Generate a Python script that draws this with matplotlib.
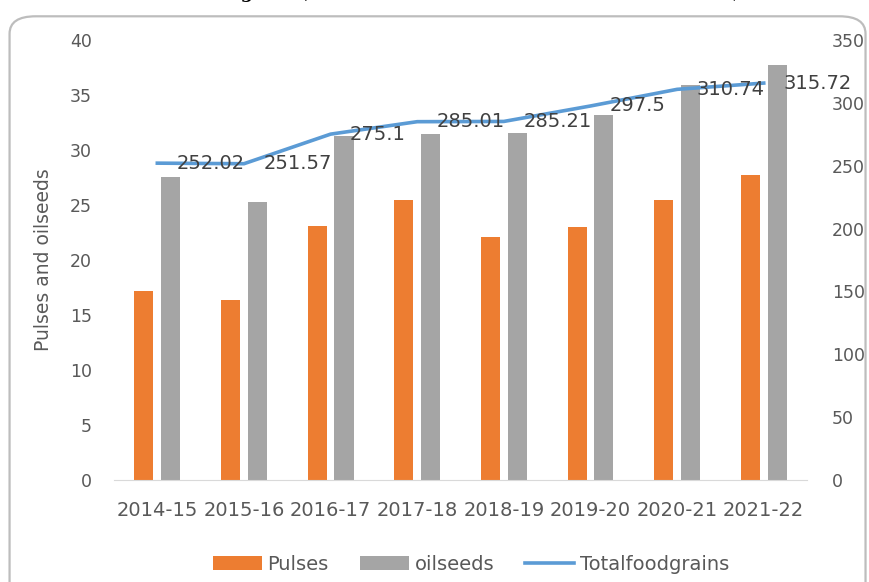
import matplotlib
matplotlib.use("Agg")
import matplotlib.pyplot as plt
from matplotlib.patches import FancyBboxPatch
import numpy as np

plt.rcParams["font.family"] = "DejaVu Sans"

years = ["2014-15", "2015-16", "2016-17", "2017-18", "2018-19", "2019-20", "2020-21", "2021-22"]
pulses = [17.15, 16.35, 23.13, 25.42, 22.08, 23.03, 25.46, 27.69]
oilseeds = [27.51, 25.25, 31.28, 31.46, 31.52, 33.22, 35.95, 37.70]
foodgrains = [252.02, 251.57, 275.1, 285.01, 285.21, 297.5, 310.74, 315.72]

ORANGE = "#ED7D31"
GREY = "#A5A5A5"
BLUE = "#5B9BD5"
TXT = "#595959"

fig = plt.figure(figsize=(8.69, 5.82), dpi=100)
ax = fig.add_axes([0.1312, 0.1753, 0.7975, 0.756])

# outer rounded chart border (bottom runs off the picture)
border = FancyBboxPatch((0.011, -0.05), 0.985, 1.022, boxstyle="round,pad=0,rounding_size=0.03",
                        transform=fig.transFigure, fill=False, edgecolor="#BDBDBD", linewidth=1.6,
                        zorder=0)
fig.patches.append(border)

# cut-off caption above the chart
fig.text(0.5, 1.012, "Figure : Trends of Total Foodgrains, Oilseeds and Pulses Production in India (in Million Tonnes)",
         ha="center", va="center", fontsize=13, fontweight="bold", family="DejaVu Serif")

x = np.arange(len(years))
w = 0.22
ax.bar(x - 0.155, pulses, w, color=ORANGE, label="Pulses", zorder=2)
ax.bar(x + 0.155, oilseeds, w, color=GREY, label="oilseeds", zorder=2)

ax.set_xlim(-0.5, len(years) - 0.5)
ax.set_ylim(0, 40)
ax.set_yticks(range(0, 41, 5))
ax.set_xticks(x)
ax.set_xticklabels(years)
ax.set_ylabel("Pulses and oilseeds", fontsize=13.5, color=TXT, labelpad=12)
ax.tick_params(axis="y", length=0, pad=16, labelsize=12.5, labelcolor=TXT)
ax.tick_params(axis="x", length=0, pad=15, labelsize=14, labelcolor=TXT)
for s in ["top", "left", "right"]:
    ax.spines[s].set_visible(False)
ax.spines["bottom"].set_color("#D9D9D9")

ax2 = ax.twinx()
ax2.plot(x, foodgrains, color=BLUE, linewidth=2.6, label="Totalfoodgrains", zorder=3)
ax2.set_ylim(0, 350)
ax2.set_yticks(range(0, 351, 50))
ax2.tick_params(axis="y", length=0, pad=18, labelsize=12.5, labelcolor=TXT)
for s in ["top", "left", "right", "bottom"]:
    ax2.spines[s].set_visible(False)

for xi, v in zip(x, foodgrains):
    ax2.annotate(f"{v:g}", (xi, v), xytext=(14, 0), textcoords="offset points",
                 ha="left", va="center", fontsize=14, color="#404040")

h1, l1 = ax.get_legend_handles_labels()
h2, l2 = ax2.get_legend_handles_labels()
fig.legend(h1 + h2, l1 + l2, loc="center", bbox_to_anchor=(0.542, 0.03), ncol=3,
           frameon=False, fontsize=14, labelcolor=TXT, handlelength=2.5,
           handletextpad=0.3, columnspacing=1.6)

fig.savefig("out.png", dpi=100)
